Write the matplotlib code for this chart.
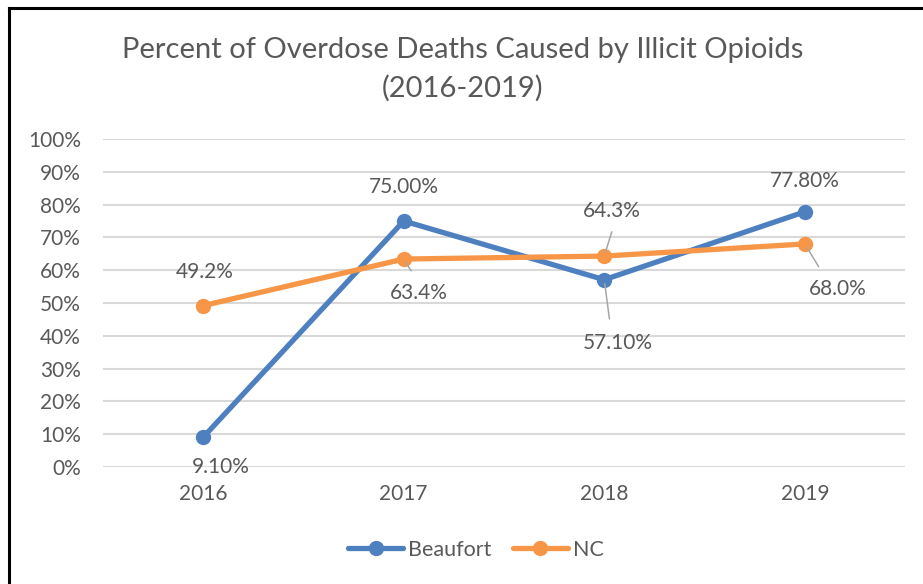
import matplotlib
matplotlib.use("Agg")
import matplotlib.pyplot as plt
from matplotlib.lines import Line2D

# Data
years = ["2016", "2017", "2018", "2019"]
beaufort = [9.1, 75.0, 57.1, 77.8]
nc = [49.2, 63.4, 64.3, 68.0]
beaufort_labels = ["9.10%", "75.00%", "57.10%", "77.80%"]
nc_labels = ["49.2%", "63.4%", "64.3%", "68.0%"]
y_ticks = list(range(0, 101, 10))

BLUE = "#4E80C0"
ORANGE = "#F79646"
TEXT = "#595959"
GRID = "#D9D9D9"
LEADER = "#A6A6A6"
FONT = ["Lato", "DejaVu Sans"]

plt.rcParams["font.family"] = FONT

W, H = 923, 584
fig = plt.figure(figsize=(W / 100, H / 100), dpi=100)
fig.patch.set_facecolor("white")

ax = fig.add_axes([103 / W, 1 - 467 / H, (905 - 103) / W, (467 - 139) / H])
x = list(range(len(years)))

ax.set_xlim(-0.5, len(years) - 0.5)
ax.set_ylim(0, 100)
ax.set_yticks(y_ticks)
ax.set_yticklabels([f"{t}%" for t in y_ticks])
ax.set_xticks(x)
ax.set_xticklabels(years)
ax.tick_params(axis="both", length=0, labelsize=15, colors=TEXT)
ax.tick_params(axis="y", pad=16)
ax.tick_params(axis="x", pad=12)
for s in ax.spines.values():
    s.set_visible(False)
ax.grid(axis="y", color=GRID, linewidth=1.5)
ax.set_axisbelow(True)

ax.plot(x, beaufort, color=BLUE, linewidth=3.8, marker="o", markersize=10,
        solid_capstyle="round", zorder=3, label="Beaufort")
ax.plot(x, nc, color=ORANGE, linewidth=3.8, marker="o", markersize=10,
        solid_capstyle="round", zorder=3, label="NC")

px = 0.72  # points per pixel at 100 dpi

def label(xi, yi, text, dx, dy, leader=None):
    kw = {}
    if leader is not None:
        kw["arrowprops"] = dict(arrowstyle="-", color=LEADER, lw=1.1,
                                shrinkA=leader[1], shrinkB=3,
                                relpos=leader[0])
    ax.annotate(text, xy=(xi, yi), xytext=(dx * px, -dy * px),
                textcoords="offset points", ha="center", va="center",
                fontsize=15, color=TEXT, zorder=4, **kw)

# Beaufort labels
b_offsets = [(18, 30, None), (0, -34, None), (14, 63, ((0.4, 1.0), 8)), (0, -31, None)]
for xi, yi, t, (dx, dy, ld) in zip(x, beaufort, beaufort_labels, b_offsets):
    label(xi, yi, t, dx, dy, ld)

# NC labels
n_offsets = [(1, -34, None), (15, 34, ((0.5, 1.0), 8)), (8, -45, ((0.55, 0.0), 6)),
             (33, 45, ((0.3, 1.0), 8))]
for xi, yi, t, (dx, dy, ld) in zip(x, nc, nc_labels, n_offsets):
    label(xi, yi, t, dx, dy, ld)

fig.text(463 / W, 1 - 50 / H, "Percent of Overdose Deaths Caused by Illicit Opioids",
         ha="center", va="center", fontsize=21, color=TEXT)
fig.text(463 / W, 1 - 88 / H, "(2016-2019)",
         ha="center", va="center", fontsize=21, color=TEXT)

fig.legend(loc="center", bbox_to_anchor=(476 / W, 1 - 550 / H), ncol=2,
           frameon=False, fontsize=15.5, labelcolor=TEXT, handlelength=2.55,
           handletextpad=0.23, columnspacing=1.0, markerscale=1.0)

# Chart frame (left and top edges)
fig.add_artist(Line2D([9 / W, 9 / W], [0, 1 - 8 / H], transform=fig.transFigure,
                      color="black", linewidth=2.2))
fig.add_artist(Line2D([9 / W, 1], [1 - 8 / H, 1 - 8 / H], transform=fig.transFigure,
                      color="black", linewidth=2.2))

fig.savefig("out.png", dpi=100, facecolor="white")
